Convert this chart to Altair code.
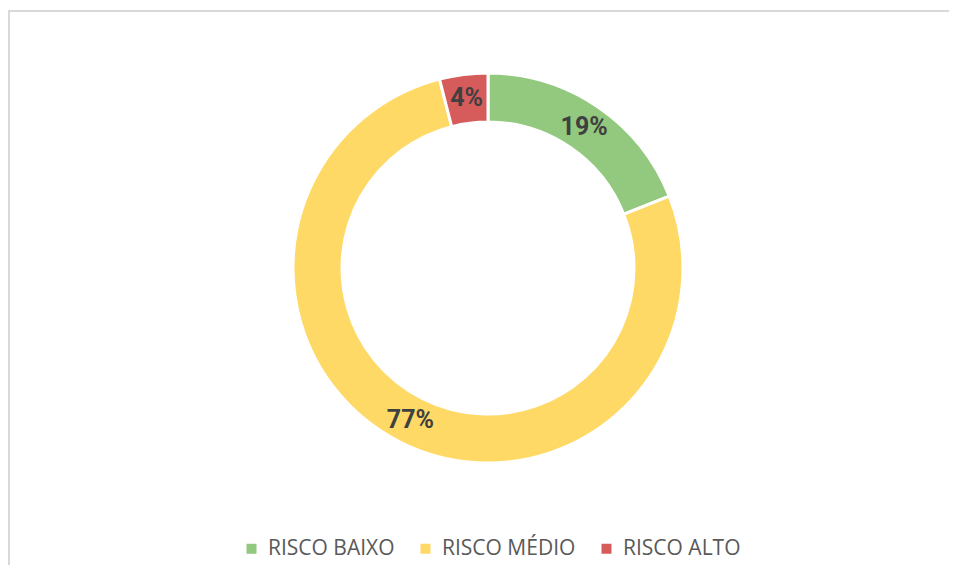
import altair as alt
import pandas as pd

categories = ["RISCO BAIXO", "RISCO MÉDIO", "RISCO ALTO"]
values = [19, 77, 4]
labels = ["19%", "77%", "4%"]
colors = ["#92C97E", "#FED966", "#D65B5B"]

df = pd.DataFrame({
    "cat": categories,
    "val": values,
    "lab": labels,
    "ord": list(range(len(categories))),
})

W, H = 941, 557
CX, CY = 480, 260

base = alt.Chart(df).encode(
    theta=alt.Theta("val:Q", stack=True),
    order=alt.Order("ord:Q"),
)

arcs = base.mark_arc(innerRadius=146, outerRadius=195, stroke="white", strokeWidth=3).encode(
    color=alt.Color(
        "cat:N",
        scale=alt.Scale(domain=categories, range=colors),
        sort=categories,
        legend=alt.Legend(
            title=None,
            orient="none",
            direction="horizontal",
            legendX=233,
            legendY=530,
            symbolType="square",
            symbolSize=100,
            symbolStrokeWidth=0,
            labelFontSize=21,
            labelFont="Open Sans",
            labelColor="#595959",
            columnPadding=20,
            labelOffset=6,
        ),
    ),
    x=alt.value(CX),
    y=alt.value(CY),
)

texts = base.mark_text(radius=171, fontSize=25, fontWeight="bold", font="Roboto", color="#404040").encode(
    text="lab:N",
    x=alt.value(CX),
    y=alt.value(CY),
)

border_df = pd.DataFrame({"a": [0]})
top_rule = alt.Chart(border_df).mark_rule(color="#D9D9D9", strokeWidth=2).encode(
    x=alt.value(0), x2=alt.value(W), y=alt.value(3)
)
left_rule = alt.Chart(border_df).mark_rule(color="#D9D9D9", strokeWidth=2).encode(
    x=alt.value(1), y=alt.value(3), y2=alt.value(H)
)

chart = alt.layer(top_rule, left_rule, arcs, texts).properties(
    width=W, height=H, padding=0, autosize=alt.AutoSizeParams(type="none")
).configure_view(stroke=None)

chart.save("out.html", embed_options={"renderer": "svg", "actions": False})
